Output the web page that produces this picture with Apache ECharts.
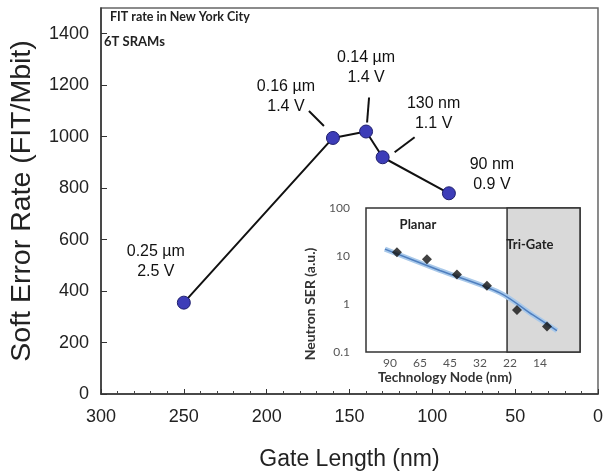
<!DOCTYPE html>
<html>
<head>
<meta charset="utf-8">
<script src="https://cdn.jsdelivr.net/npm/echarts@6/dist/echarts.min.js"></script>
<style>
  html, body { margin: 0; padding: 0; background: #fff; }
  #chart { width: 606px; height: 476px; }
</style>
</head>
<body>
<div id="chart"></div>
<script>
// ---- data ----
const gateLength = [250, 160, 140, 130, 90];          // nm
const serFit = [355, 995, 1020, 920, 780];             // FIT/Mbit
const pointLabels = ['0.25 µm\n2.5 V', '0.16 µm\n1.4 V', '0.14 µm\n1.4 V', '130 nm\n1.1 V', '90 nm\n0.9 V'];
const yTicks = [0, 200, 400, 600, 800, 1000, 1200, 1400];
const xTicks = [300, 250, 200, 150, 100, 50, 0];

const insetNodes = ['90', '65', '45', '32', '22', '14'];   // technology node (nm)
const insetSer = [12, 8.6, 4.1, 2.4, 0.75, 0.34];           // neutron SER (a.u.)
const trendPos = [-0.4, 1.43, 3.43, 4.53, 5.33];            // node position along inset axis
const trendSer = [13.9, 5.0, 1.71, 0.59, 0.28];
const triGateStart = 3.67;                                   // boundary between planar and tri-gate
const insetXMin = -1.03, insetXMax = 6.1;
const insetYTicks = [0.1, 1, 10, 100];

// ---- chart ----
const chart = echarts.init(document.getElementById('chart'), null, { renderer: 'canvas' });
const mainFont = 'Liberation Sans, Arial, sans-serif';
const insetFont = 'Lato, Open Sans, sans-serif';

// label offsets per point (styling)
const labelOffsets = [[-28, -41], [-47, -41], [0, -64], [51, -44], [43, -19]];

const option = {
  animation: false,
  backgroundColor: '#fff',
  title: [
    { text: 'FIT rate in New York City', left: 110, top: 10, padding: 0,
      textStyle: { fontFamily: insetFont, fontWeight: 'bold', fontSize: 12.5, color: '#222' } },
    { text: '6T SRAMs', left: 104, top: 35, padding: 0,
      textStyle: { fontFamily: insetFont, fontWeight: 'bold', fontSize: 13, color: '#222' } }
  ],
  grid: [
    { left: 100, right: 4, top: 8, bottom: 81, show: true, borderColor: '#666', borderWidth: 1.5, backgroundColor: 'transparent' },
    { left: 366, right: 26, top: 208, bottom: 124, show: true, borderColor: '#333', borderWidth: 1.5, backgroundColor: '#fff', z: 3 }
  ],
  xAxis: [
    {
      gridIndex: 0, position: 'bottom', type: 'value', inverse: true, min: 0, max: 300, interval: 50,
      name: 'Gate Length (nm)', nameLocation: 'middle', nameGap: 54,
      nameTextStyle: { fontFamily: mainFont, fontSize: 23, color: '#222' },
      axisLine: { onZero: false, lineStyle: { color: '#333', width: 1.5 } },
      axisTick: { inside: true, length: 5, lineStyle: { color: '#333' } },
      minorTick: { show: true, splitNumber: 5, length: 3, lineStyle: { color: '#444' } },
      splitLine: { show: false },
      axisLabel: { fontFamily: mainFont, fontSize: 18, color: '#222', margin: 14,
                   formatter: v => xTicks.includes(v) ? String(v) : '' }
    },
    {
      gridIndex: 1, position: 'bottom', type: 'value', min: insetXMin, max: insetXMax,
      name: 'Technology Node (nm)', nameLocation: 'middle', nameGap: 19,
      nameTextStyle: { fontFamily: insetFont, fontWeight: 'bold', fontSize: 13.5, color: '#333', padding: [0, 56, 0, 0] },
      axisLine: { show: false, onZero: false },
      axisTick: { show: false },
      splitLine: { show: false },
      axisLabel: {
        customValues: [0, 1, 2, 3, 4, 5],
        formatter: v => insetNodes[Math.round(v)] || '',
        fontFamily: insetFont, fontSize: 12, color: '#555', margin: 5, padding: [0, 14, 0, 0]
      },
      z: 4
    }
  ],
  yAxis: [
    {
      gridIndex: 0, position: 'left', type: 'value', min: 0, max: 1500, interval: 200,
      name: 'Soft Error Rate (FIT/Mbit)', nameLocation: 'middle', nameGap: 64,
      nameTextStyle: { fontFamily: mainFont, fontSize: 28.5, color: '#222' },
      axisLine: { show: true, onZero: false, lineStyle: { color: '#333', width: 1.5 } },
      axisTick: { show: true, inside: true, length: 6, lineStyle: { color: '#333' } },
      splitLine: { show: false },
      axisLabel: { fontFamily: mainFont, fontSize: 18, color: '#222', margin: 12, showMaxLabel: false,
                   formatter: v => yTicks.includes(v) ? String(v) : '' }
    },
    {
      gridIndex: 1, position: 'left', type: 'log', logBase: 10, min: 0.1, max: 100,
      axisLine: { show: false, onZero: false },
      axisTick: { show: false },
      splitLine: { show: false },
      axisLabel: { fontFamily: insetFont, fontSize: 12, color: '#555', margin: 16,
                   formatter: v => { const t = insetYTicks.find(k => Math.abs(k - v) / k < 1e-6); return t === undefined ? '' : String(t); } },
      z: 4
    }
  ],
  series: [
    {
      type: 'line', xAxisIndex: 0, yAxisIndex: 0,
      data: gateLength.map((g, i) => ({
        value: [g, serFit[i]],
        label: { show: true, formatter: pointLabels[i], position: 'inside', offset: labelOffsets[i],
                 fontFamily: mainFont, fontSize: 16, lineHeight: 20, color: '#111', align: 'center', verticalAlign: 'middle' }
      })),
      lineStyle: { color: '#111', width: 2 },
      symbol: 'circle', symbolSize: 13,
      itemStyle: { color: '#3d3db8', borderColor: '#20206e', borderWidth: 1 },
      z: 5
    },
    {
      type: 'scatter', xAxisIndex: 1, yAxisIndex: 1, silent: true,
      data: insetSer.map((v, i) => [i, v]),
      symbolSize: 0, itemStyle: { opacity: 0 },
      markArea: {
        silent: true, z: 4,
        itemStyle: { color: '#d9d9d9', borderColor: '#333', borderWidth: 1.5 },
        data: [[{ xAxis: triGateStart }, { xAxis: insetXMax }]]
      },
      z: 4
    },
    {
      type: 'line', xAxisIndex: 1, yAxisIndex: 1,
      data: trendPos.map((p, i) => [p, trendSer[i]]),
      smooth: 0.3, symbol: 'none',
      lineStyle: { color: '#a9c9ea', width: 5 }, z: 5
    },
    {
      type: 'line', xAxisIndex: 1, yAxisIndex: 1,
      data: trendPos.map((p, i) => [p, trendSer[i]]),
      smooth: 0.3, symbol: 'none',
      lineStyle: { color: '#4f7fbf', width: 1.5 }, z: 6
    },
    {
      type: 'scatter', xAxisIndex: 1, yAxisIndex: 1,
      data: insetSer.map((v, i) => [i, v]),
      symbol: 'diamond', symbolSize: 10,
      itemStyle: { color: '#111' }, z: 7
    }
  ]
};
chart.setOption(option);

// leader lines from annotations to points (offsets in pixels relative to each point)
const leaderOffsets = { 1: [[-24, -27], [-9, -12]], 2: [[3, -34], [1, -9]], 3: [[32, -20], [12, -5]] };
const graphics = [];
Object.keys(leaderOffsets).forEach(k => {
  const i = +k;
  const p = chart.convertToPixel({ gridIndex: 0 }, [gateLength[i], serFit[i]]);
  const o = leaderOffsets[k];
  graphics.push({
    type: 'line', z: 10,
    shape: { x1: p[0] + o[0][0], y1: p[1] + o[0][1], x2: p[0] + o[1][0], y2: p[1] + o[1][1] },
    style: { stroke: '#111', lineWidth: 2 }
  });
});
const insetTexts = [
  { text: 'Planar', pos: [0.7, 44] },
  { text: 'Tri-Gate', pos: [4.43, 17] }
];
insetTexts.forEach(t => {
  const p = chart.convertToPixel({ gridIndex: 1 }, t.pos);
  graphics.push({
    type: 'text', z: 10, x: p[0], y: p[1],
    style: { text: t.text, fontFamily: insetFont, fontWeight: 'bold', fontSize: 13, fill: '#222', align: 'center', verticalAlign: 'middle' }
  });
});
graphics.push({
  type: 'text', z: 10, x: 310, y: 304, rotation: Math.PI / 2,
  style: { text: 'Neutron SER (a.u.)', fontFamily: insetFont, fontWeight: 'bold', fontSize: 14, fill: '#333', align: 'center', verticalAlign: 'middle' }
});
chart.setOption({ graphic: graphics });
</script>
</body>
</html>
